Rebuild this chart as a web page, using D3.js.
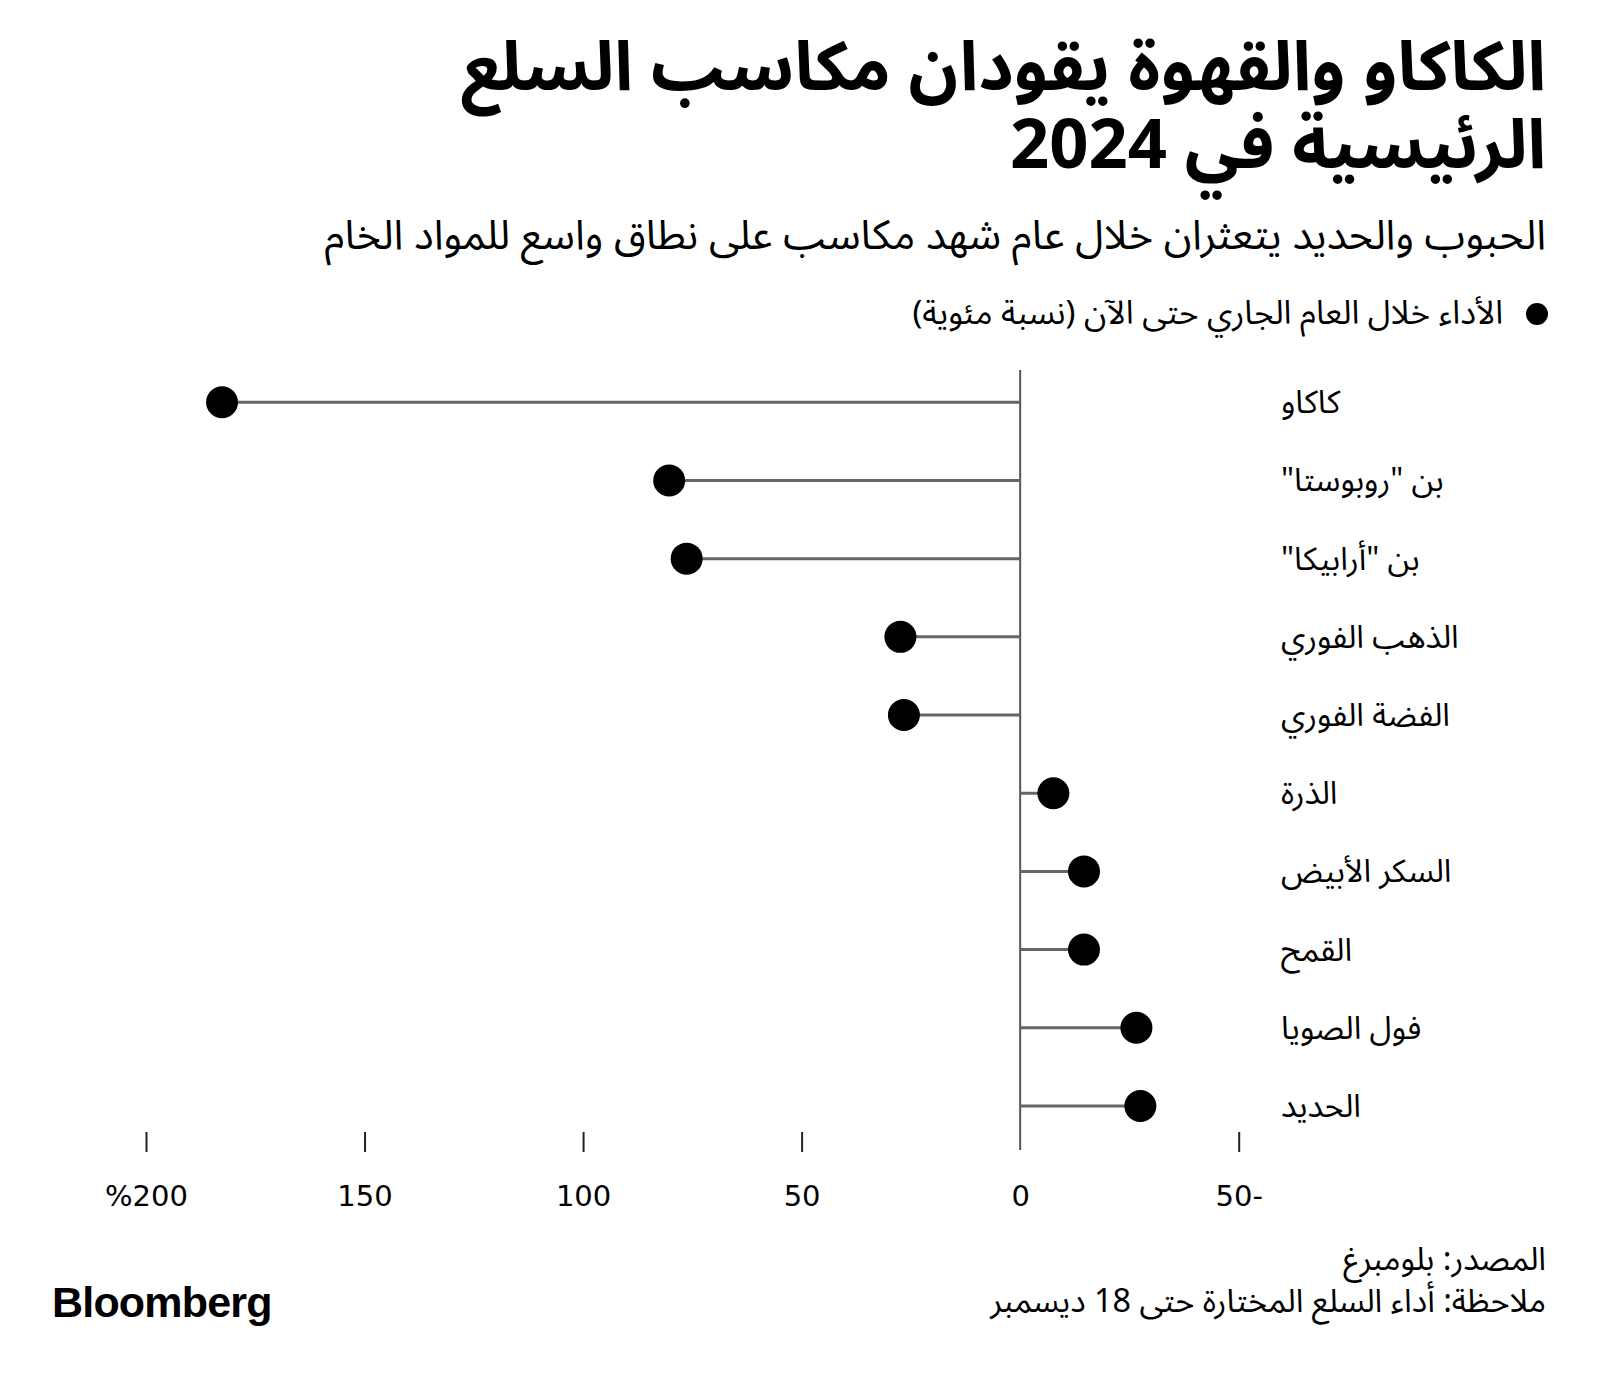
<!DOCTYPE html>
<html lang="ar">
<head>
<meta charset="utf-8">
<script src="https://cdn.jsdelivr.net/npm/d3@7"></script>
<style>
  html, body { margin: 0; padding: 0; background: #fff; }
  svg { display: block; }
  .ar { font-family: "Noto Sans Arabic", "DejaVu Sans", sans-serif; direction: rtl; unicode-bidi: embed; }
</style>
</head>
<body>
<svg id="chart" width="1600" height="1382"></svg>
<script>
// ---- data ----
const categories = ["كاكاو", 'بن "روبوستا"', 'بن "أرابيكا"', "الذهب الفوري", "الفضة الفوري", "الذرة", "السكر الأبيض", "القمح", "فول الصويا", "الحديد"];
const ytdChange = [182.6, 80.3, 76.3, 27.4, 26.6, -7.6, -14.6, -14.6, -26.6, -27.5];
const tickValues = [200, 150, 100, 50, 0, -50];
const tickLabels = ["%200", "150", "100", "50", "0", "50-"];

const titleLines = ["الكاكاو والقهوة يقودان مكاسب السلع", "الرئيسية في 2024"];
const subtitle = "الحبوب والحديد يتعثران خلال عام شهد مكاسب على نطاق واسع للمواد الخام";
const legendLabel = "الأداء خلال العام الجاري حتى الآن (نسبة مئوية)";
const footerLines = ["المصدر: بلومبرغ", "ملاحظة: أداء السلع المختارة حتى 18 ديسمبر"];

// ---- layout ----
const svg = d3.select("#chart");
const rightEdge = 1546;

const x = d3.scaleLinear().domain([200, -50]).range([146, 1238.7]);
const y = d3.scalePoint().domain(categories).range([402.3, 1106]);

// title: font size chosen so the first line spans the reference width
const titleSel = svg.append("g").selectAll("text").data(titleLines).join("text")
  .attr("class", "ar").attr("direction", "rtl")
  .attr("x", rightEdge)
  .attr("y", (d, i) => 90 + i * 78)
  .attr("text-anchor", "start")
  .attr("font-weight", "bold")
  .attr("font-size", 60)
  .attr("fill", "#000")
  .text(d => d);
{
  const w = titleSel.nodes()[0].getComputedTextLength();
  titleSel.attr("font-size", 60 * 1085 / w);
}

function fitWidth(sel, base, target) {
  sel.attr("font-size", base);
  const w = sel.node().getComputedTextLength();
  if (w > 0) sel.attr("font-size", base * target / w);
  return sel;
}

const sub = svg.append("text")
  .attr("class", "ar").attr("direction", "rtl")
  .attr("x", rightEdge).attr("y", 249)
  .attr("text-anchor", "start")
  .attr("fill", "#000")
  .text(subtitle);
fitWidth(sub, 34, 1222);

// legend
svg.append("circle").attr("cx", 1537).attr("cy", 314).attr("r", 11).attr("fill", "#000");
const leg = svg.append("text")
  .attr("class", "ar").attr("direction", "rtl")
  .attr("x", 1503).attr("y", 324)
  .attr("text-anchor", "start")
  .attr("fill", "#000")
  .text(legendLabel);
fitWidth(leg, 27, 591);

// axis ticks
const axis = d3.axisBottom(x)
  .tickValues(tickValues)
  .tickFormat((d, i) => tickLabels[i])
  .tickSize(20)
  .tickPadding(33);
const gAxis = svg.append("g").attr("transform", "translate(0,1132)").call(axis);
gAxis.select(".domain").remove();
gAxis.selectAll(".tick line").attr("stroke", "#222").attr("stroke-width", 2)
  .filter(d => d === 0).remove();
gAxis.selectAll(".tick text")
  .attr("font-family", "'DejaVu Sans', sans-serif")
  .attr("font-size", 29)
  .attr("fill", "#000")
  .attr("direction", "ltr");

// zero line
svg.append("line")
  .attr("x1", x(0)).attr("x2", x(0))
  .attr("y1", 370).attr("y2", 1150)
  .attr("stroke", "#555").attr("stroke-width", 2);

// stems and dots
const rows = categories.map((c, i) => ({ c, v: ytdChange[i] }));
svg.append("g").selectAll("line").data(rows).join("line")
  .attr("x1", x(0)).attr("x2", d => x(d.v))
  .attr("y1", d => y(d.c)).attr("y2", d => y(d.c))
  .attr("stroke", "#666").attr("stroke-width", 3);
svg.append("g").selectAll("circle").data(rows).join("circle")
  .attr("cx", d => x(d.v)).attr("cy", d => y(d.c))
  .attr("r", 16).attr("fill", "#000");

// category labels (left-aligned in RTL)
svg.append("g").selectAll("text").data(categories).join("text")
  .attr("class", "ar").attr("direction", "rtl")
  .attr("x", 1281).attr("y", d => y(d) + 11)
  .attr("text-anchor", "end")
  .attr("font-size", 32)
  .attr("fill", "#000")
  .text(d => d);

// footer
const footSel = svg.append("g").selectAll("text").data(footerLines).join("text")
  .attr("class", "ar").attr("direction", "rtl")
  .attr("x", rightEdge)
  .attr("y", (d, i) => 1270 + i * 42)
  .attr("text-anchor", "start")
  .attr("font-size", 27)
  .attr("fill", "#000")
  .text(d => d);
{
  const w = footSel.nodes()[1].getComputedTextLength();
  footSel.attr("font-size", 27 * 556 / w);
}

svg.append("text")
  .attr("x", 52).attr("y", 1317)
  .attr("font-family", "'Liberation Sans', Arial, sans-serif")
  .attr("font-weight", "bold")
  .attr("font-size", 43)
  .attr("letter-spacing", -0.8)
  .attr("fill", "#000")
  .text("Bloomberg");
</script>
</body>
</html>
